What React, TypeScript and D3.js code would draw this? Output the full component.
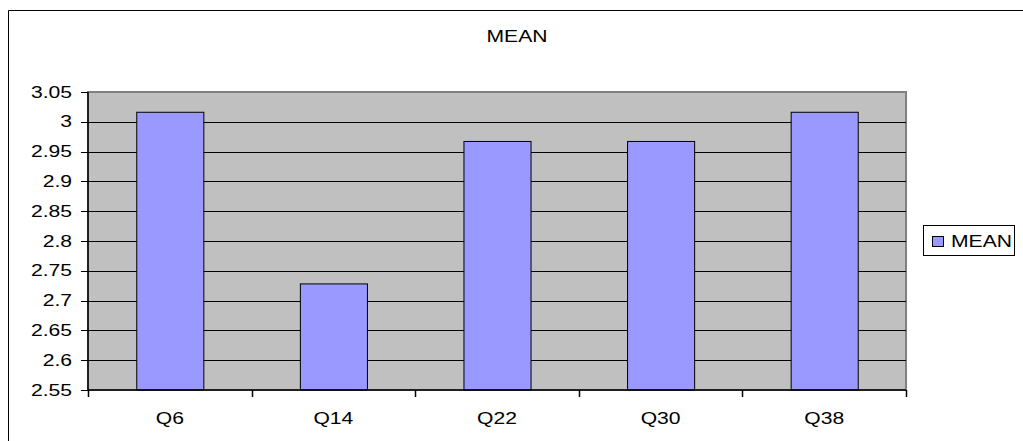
import React from "react";
import * as d3 from "d3";

// Chart data
const categories: string[] = ["Q6", "Q14", "Q22", "Q30", "Q38"];
const meanValues: number[] = [3.016, 2.728, 2.967, 2.967, 3.016];
const yTicks: number[] = [2.55, 2.6, 2.65, 2.7, 2.75, 2.8, 2.85, 2.9, 2.95, 3.0, 3.05];
const seriesName = "MEAN";
const chartTitle = "MEAN";

const W = 1023;
const H = 441;
const plot = { left: 88, right: 906, top: 92, bottom: 390 };
const FONT = "'Liberation Sans', Arial, Helvetica, sans-serif";
const SX = 1.32; // horizontal stretch of the chart text
const BAR_FILL = "#9999FF";
const PLOT_FILL = "#C0C0C0";

function StretchText(props: {
  x: number;
  y: number;
  anchor: "start" | "middle" | "end";
  size?: number;
  children: React.ReactNode;
}) {
  const { x, y, anchor, size = 16, children } = props;
  return (
    <text
      transform={`translate(${x},${y}) scale(${SX},1)`}
      textAnchor={anchor}
      fontFamily={FONT}
      fontSize={size}
      fill="#000"
    >
      {children}
    </text>
  );
}

export default function App() {
  const y = d3.scaleLinear().domain([2.55, 3.05]).range([plot.bottom, plot.top]);
  const xCat = d3
    .scaleBand<string>()
    .domain(categories)
    .range([plot.left, plot.right])
    .padding(0);
  const xBar = d3
    .scaleBand<string>()
    .domain(categories)
    .range([plot.left, plot.right])
    .paddingInner(0.59)
    .paddingOuter(0.295);

  const boundaries = [...categories.map((c) => xCat(c) as number), plot.right];

  return (
    <svg
      width={W}
      height={H}
      style={{ position: "absolute", left: 0, top: 0, display: "block", background: "#fff" }}
    >
      {/* chart frame (left and top edges) */}
      <line x1={8.5} y1={10.5} x2={W} y2={10.5} stroke="#000" strokeWidth={1} />
      <line x1={8.5} y1={10.5} x2={8.5} y2={H} stroke="#000" strokeWidth={1} />

      {/* title */}
      <StretchText x={517} y={42} anchor="middle">
        {chartTitle}
      </StretchText>

      {/* plot area */}
      <rect
        x={plot.left}
        y={plot.top}
        width={plot.right - plot.left}
        height={plot.bottom - plot.top}
        fill={PLOT_FILL}
        stroke="#808080"
        strokeWidth={2}
      />

      {/* gridlines */}
      {yTicks.slice(1, -1).map((t) => (
        <line
          key={`g${t}`}
          x1={plot.left}
          x2={plot.right}
          y1={Math.round(y(t)) + 0.5}
          y2={Math.round(y(t)) + 0.5}
          stroke="#000"
          strokeWidth={1}
        />
      ))}

      {/* bars */}
      {categories.map((c, i) => (
        <rect
          key={c}
          x={(xBar(c) as number) + 0.5}
          y={y(meanValues[i])}
          width={xBar.bandwidth()}
          height={plot.bottom - y(meanValues[i])}
          fill={BAR_FILL}
          stroke="#000"
          strokeWidth={1}
        />
      ))}

      {/* y axis */}
      <line x1={plot.left} x2={plot.left} y1={plot.top} y2={plot.bottom} stroke="#000" strokeWidth={1.5} />
      {yTicks.map((t) => (
        <g key={`t${t}`}>
          <line
            x1={plot.left - 7}
            x2={plot.left}
            y1={Math.round(y(t)) + 0.5}
            y2={Math.round(y(t)) + 0.5}
            stroke="#000"
            strokeWidth={1}
          />
          <StretchText x={72} y={y(t) + 5.5} anchor="end">
            {d3.format("")(+t.toFixed(2))}
          </StretchText>
        </g>
      ))}

      {/* x axis */}
      <line x1={plot.left} x2={plot.right} y1={plot.bottom} y2={plot.bottom} stroke="#000" strokeWidth={1.5} />
      {boundaries.map((bx, i) => (
        <line
          key={`xt${i}`}
          x1={Math.round(bx) + 0.5}
          x2={Math.round(bx) + 0.5}
          y1={plot.bottom}
          y2={plot.bottom + 7}
          stroke="#000"
          strokeWidth={1.5}
        />
      ))}
      {categories.map((c) => (
        <StretchText key={`xl${c}`} x={(xCat(c) as number) + xCat.bandwidth() / 2} y={424} anchor="middle">
          {c}
        </StretchText>
      ))}

      {/* legend */}
      <rect x={923.5} y={225.5} width={91} height={30} fill="#fff" stroke="#000" strokeWidth={1} />
      <rect x={932.5} y={236.5} width={11} height={10} fill={BAR_FILL} stroke="#000" strokeWidth={1} />
      <StretchText x={951} y={247} anchor="start">
        {seriesName}
      </StretchText>
    </svg>
  );
}
